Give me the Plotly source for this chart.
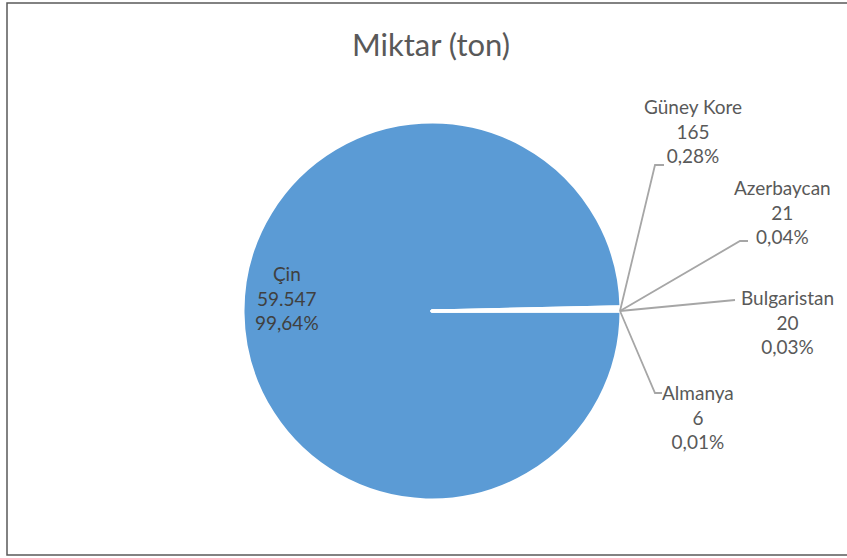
import plotly.graph_objects as go

labels = ["Çin", "Güney Kore", "Azerbaycan", "Bulgaristan", "Almanya"]
values = [59547, 165, 21, 20, 6]
percents = [99.64, 0.28, 0.04, 0.03, 0.01]
colors = ["#5B9BD5", "#FFFFFF", "#FFFFFF", "#FFFFFF", "#FFFFFF"]
title = "Miktar (ton)"

W, H = 847, 558
cx, cy, r = 432, 311, 189

def px(x):
    return x / W

def py(y):
    return 1 - y / H

def fmt_int(v):
    return f"{v:,.0f}".replace(",", ".")

def fmt_pct(p):
    return f"{p:.2f}".replace(".", ",") + "%"

fig = go.Figure(go.Pie(
    labels=labels, values=values, sort=False, direction="clockwise", rotation=90,
    marker=dict(colors=colors, line=dict(color="white", width=3)),
    textinfo="none",
    domain=dict(x=[px(cx - r), px(cx + r)], y=[py(cy + r), py(cy - r)]),
    showlegend=False, hoverinfo="label+value+percent",
))

# label layout positions (pixel centres) and leader-line elbows
label_pos = [(287, 298), (693, 131), (782, 212), (787, 322), (698, 417)]
elbows = [None, [(655, 165), (664, 165)], [(740, 241), (748, 241)], [(735, 300)], [(655, 393), (662, 393)]]
rim = (cx + r - 1, cy)

annotations = []
shapes = []
for i, lab in enumerate(labels):
    x, y = label_pos[i]
    annotations.append(dict(
        text=f"{lab}<br>{fmt_int(values[i])}<br>{fmt_pct(percents[i])}",
        x=px(x), y=py(y), xref="paper", yref="paper", xanchor="center", yanchor="middle",
        showarrow=False, align="center", font=dict(size=19, color="#404040" if i == 0 else "#595959"),
    ))
    if elbows[i]:
        pts = [rim] + elbows[i]
        path = "M " + " L ".join(f"{px(a)},{py(b)}" for a, b in pts)
        shapes.append(dict(type="path", xref="paper", yref="paper", path=path,
                           line=dict(color="#A6A6A6", width=1.8)))

shapes.append(dict(type="path", xref="paper", yref="paper",
                   path=f"M {px(W+5)},{py(3)} L {px(7)},{py(3)} L {px(7)},{py(555)} L {px(W+5)},{py(555)}",
                   line=dict(color="#595959", width=1.5)))

fig.update_layout(
    width=W, height=H, margin=dict(l=0, r=0, t=0, b=0),
    separators=",.",
    font=dict(family="Lato, Open Sans, sans-serif", color="#595959"),
    paper_bgcolor="white",
    title=dict(text=title, x=px(431), xanchor="center", y=py(45), yanchor="middle",
               font=dict(size=31, color="#595959")),
    annotations=annotations,
    shapes=shapes,
)
fig.write_html("out.html", config={"displayModeBar": False},
               post_script="document.body.style.margin='0';")
